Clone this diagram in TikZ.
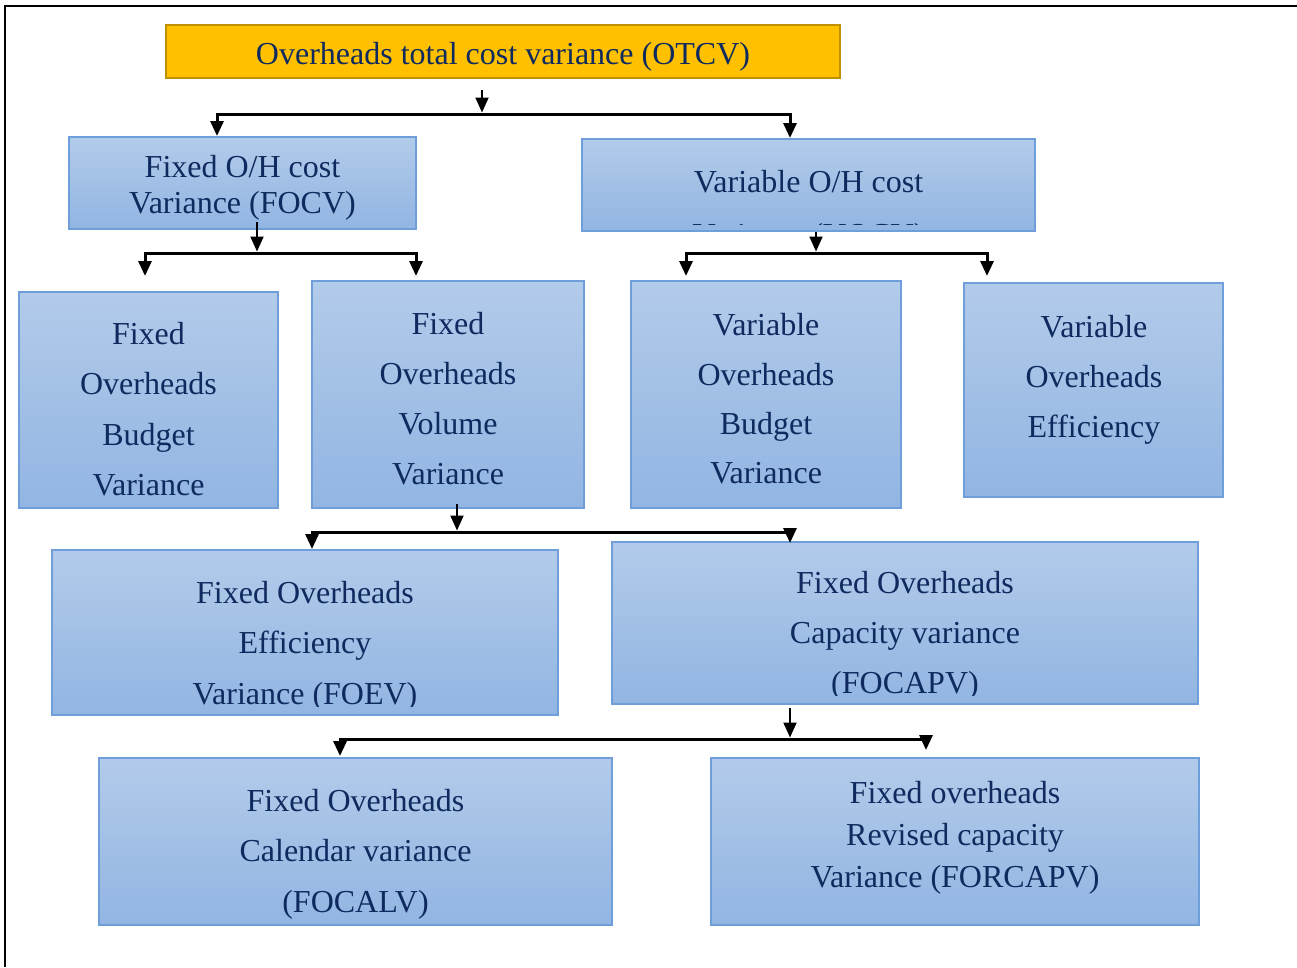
\documentclass[tikz,border=0pt]{standalone}
\usepackage{fontspec}
\setmainfont{Liberation Serif}
\usetikzlibrary{arrows.meta}

\definecolor{boxtop}{HTML}{B2CBEA}
\definecolor{boxbot}{HTML}{92B5E2}
\definecolor{boxedge}{HTML}{6E9FDA}
\definecolor{ink}{HTML}{0E2A5E}
\definecolor{gold}{HTML}{FFC000}
\definecolor{goldedge}{HTML}{BF9000}

\tikzset{
  bluebox/.style={draw=boxedge, line width=1.5pt, top color=boxtop, bottom color=boxbot, inner sep=0pt, outer sep=0pt},
  goldbox/.style={draw=goldedge, line width=2pt, fill=gold, inner sep=0pt, outer sep=0pt},
  vtext/.style={text=ink, font=\fontsize{32}{36}\selectfont, anchor=base, inner sep=0pt},
  stem/.style={line width=2pt, -{Triangle[width=13pt,length=15pt]}},
  bar/.style={line width=3pt, line join=miter, {Triangle[width=13pt,length=15pt]}-{Triangle[width=13pt,length=15pt]}},
  frame/.style={line width=2pt}
}

% rectangle node spanning (x1,y1)-(x2,y2): style, name, x1, y1, x2, y2
\newcommand{\panel}[6]{%
  \node[#1, minimum width={(#5-#3)*1pt}, minimum height={(#6-#4)*1pt}] (#2) at ({(#3+#5)/2},{(#4+#6)/2}) {};}

\begin{document}
\begin{tikzpicture}[x=1pt, y=-1pt]
\useasboundingbox (0,0) rectangle (1297,967);
\fill[white] (0,0) rectangle (1297,967);

% page frame
\draw[frame] (5,967) -- (5,6) -- (1297,6);

% boxes
\panel{goldbox}{otcv}{166}{25}{840}{78}
\panel{bluebox}{focv}{69}{137}{416}{229}
\panel{bluebox}{vocv}{582}{139}{1035}{231}
\panel{bluebox}{fobv}{19}{292}{278}{508}
\panel{bluebox}{fovv}{312}{281}{584}{508}
\panel{bluebox}{vobv}{631}{281}{901}{508}
\panel{bluebox}{voev}{964}{283}{1223}{497}
\panel{bluebox}{foev}{52}{550}{558}{715}
\panel{bluebox}{focapv}{612}{542}{1198}{704}
\panel{bluebox}{focalv}{99}{758}{612}{925}
\panel{bluebox}{forcapv}{711}{758}{1199}{925}

% texts
\node[vtext] (otcv-t) at (503,64) {Overheads total cost variance (OTCV)};

\node[vtext] (focv-1) at (242.5,177) {Fixed O/H cost};
\node[vtext] (focv-2) at (242.5,213) {Variance (FOCV)};

\node[vtext] (vocv-1) at (808.5,192) {Variable O/H cost};
\begin{scope}
  \clip (582,139) rectangle (1035,224.2);
  \node[vtext] (vocv-2) at (808.5,245.8) {Variance (VOCV)};
\end{scope}

\node[vtext] (fobv-1) at (148.5,344) {Fixed};
\node[vtext] (fobv-2) at (148.5,394) {Overheads};
\node[vtext] (fobv-3) at (148.5,445) {Budget};
\node[vtext] (fobv-4) at (148.5,495) {Variance};

\node[vtext] (fovv-1) at (448,334) {Fixed};
\node[vtext] (fovv-2) at (448,384) {Overheads};
\node[vtext] (fovv-3) at (448,434) {Volume};
\node[vtext] (fovv-4) at (448,484) {Variance};

\node[vtext] (vobv-1) at (766,335) {Variable};
\node[vtext] (vobv-2) at (766,385) {Overheads};
\node[vtext] (vobv-3) at (766,434) {Budget};
\node[vtext] (vobv-4) at (766,483) {Variance};

\node[vtext] (voev-1) at (1094,337) {Variable};
\node[vtext] (voev-2) at (1094,387) {Overheads};
\node[vtext] (voev-3) at (1094,437) {Efficiency};

\node[vtext] (foev-1) at (305,603) {Fixed Overheads};
\node[vtext] (foev-2) at (305,653) {Efficiency};
\begin{scope}
  \clip (52,550) rectangle (558,706);
  \node[vtext] (foev-3) at (305,704) {Variance (FOEV)};
\end{scope}

\node[vtext] (focapv-1) at (905,593) {Fixed Overheads};
\node[vtext] (focapv-2) at (905,643) {Capacity variance};
\begin{scope}
  \clip (612,542) rectangle (1198,695);
  \node[vtext] (focapv-3) at (905,693) {(FOCAPV)};
\end{scope}

\node[vtext] (focalv-1) at (355.5,811) {Fixed Overheads};
\node[vtext] (focalv-2) at (355.5,861) {Calendar variance};
\node[vtext] (focalv-3) at (355.5,912) {(FOCALV)};

\node[vtext] (forcapv-1) at (955,803) {Fixed overheads};
\node[vtext] (forcapv-2) at (955,845) {Revised capacity};
\node[vtext] (forcapv-3) at (955,887) {Variance (FORCAPV)};

% connector points
\coordinate (o-s) at (482,90);    \coordinate (o-j) at (482,112.5);
\coordinate (o-l) at (217,114);   \coordinate (o-r) at (790,114);
\coordinate (o-lt) at (217,136);  \coordinate (o-rt) at (790,138);

\coordinate (f-s) at (257,222);   \coordinate (f-j) at (257,251.5);
\coordinate (f-l) at (145,253);   \coordinate (f-r) at (416,253);
\coordinate (f-lt) at (145,276);  \coordinate (f-rt) at (416,276);

\coordinate (v-s) at (816,232);   \coordinate (v-j) at (816,251.5);
\coordinate (v-l) at (686,253);   \coordinate (v-r) at (987,253);
\coordinate (v-lt) at (686,276);  \coordinate (v-rt) at (987,276);

\coordinate (b-s) at (457,504);   \coordinate (b-j) at (457,530.5);
\coordinate (b-l) at (312,532);   \coordinate (b-r) at (790,532);
\coordinate (b-lt) at (312,549);  \coordinate (b-rt) at (790,543);

\coordinate (p-s) at (790,708);   \coordinate (p-j) at (790,737.5);
\coordinate (p-l) at (340,739);   \coordinate (p-r) at (926,739);
\coordinate (p-lt) at (340,756);  \coordinate (p-rt) at (926,750);

% connectors
\draw[stem] (o-s) -- (o-j);
\draw[bar] (o-lt) -- (o-l) -- (o-r) -- (o-rt);

\draw[stem] (f-s) -- (f-j);
\draw[bar] (f-lt) -- (f-l) -- (f-r) -- (f-rt);

\draw[stem] (v-s) -- (v-j);
\draw[bar] (v-lt) -- (v-l) -- (v-r) -- (v-rt);

\draw[stem] (b-s) -- (b-j);
\draw[bar] (b-lt) -- (b-l) -- (b-r) -- (b-rt);

\draw[stem] (p-s) -- (p-j);
\draw[bar] (p-lt) -- (p-l) -- (p-r) -- (p-rt);
\end{tikzpicture}
\end{document}
